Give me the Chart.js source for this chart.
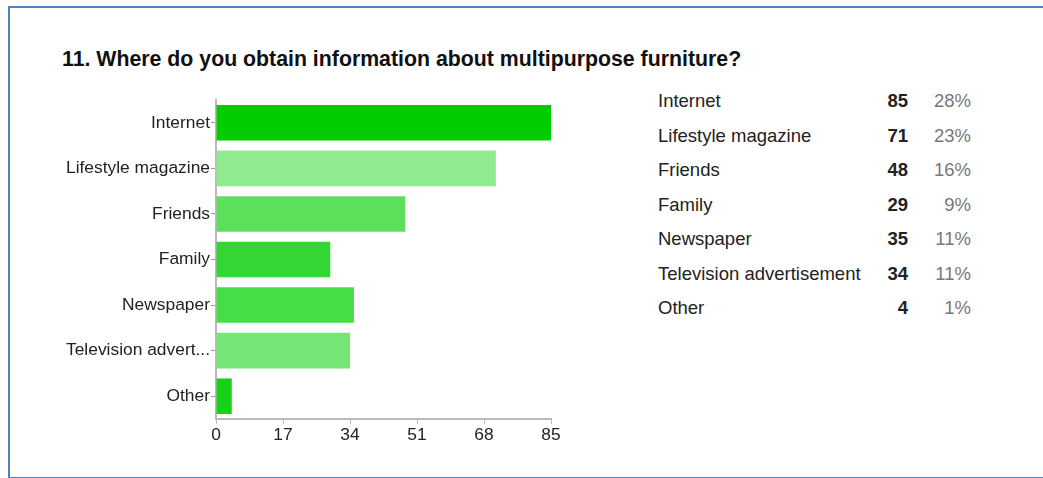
<!DOCTYPE html>
<html>
<head>
<meta charset="utf-8">
<script src="https://cdn.jsdelivr.net/npm/chart.js@4/dist/chart.umd.min.js"></script>
<style>
  html, body { margin: 0; padding: 0; background: #fff; }
  body { width: 1043px; height: 478px; position: relative; overflow: hidden; font-family: "Liberation Sans", Arial, sans-serif; }
  #frame { position: absolute; left: 8px; top: 6px; width: 1100px; height: 469px; border: 2px solid #4f81bd; border-right: none; }
  #title { position: absolute; left: 62px; top: 47px; font-size: 21.3px; font-weight: bold; color: #111; white-space: nowrap; }
  #chartBox { position: absolute; left: 0; top: 0; width: 600px; height: 478px; }
  #summary { position: absolute; left: 658px; top: 84px; border-collapse: collapse; table-layout: fixed; width: 313px; font-size: 18.5px; color: #222; }
  #summary td { padding: 0; height: 34.5px; white-space: nowrap; }
  #summary col.name { width: 210px; }
  #summary col.num { width: 40px; }
  #summary col.pct { width: 63px; }
  #summary td.num { text-align: right; font-weight: bold; }
  #summary td.pct { text-align: right; color: #777; }
</style>
</head>
<body>
<div id="frame"></div>
<div id="title"></div>
<div id="chartBox"><canvas id="chart"></canvas></div>
<table id="summary"><colgroup><col class="name"><col class="num"><col class="pct"></colgroup><tbody></tbody></table>
<script>
const questionTitle = "11. Where do you obtain information about multipurpose furniture?";
const categories = ["Internet", "Lifestyle magazine", "Friends", "Family", "Newspaper", "Television advertisement", "Other"];
const counts = [85, 71, 48, 29, 35, 34, 4];
const percentLabels = ["28%", "23%", "16%", "9%", "11%", "11%", "1%"];
const barColors = ["#00cc00", "#90ea90", "#5ce05c", "#33d633", "#47dd47", "#75e575", "#19d119"];
const xTickValues = [0, 17, 34, 51, 68, 85];

document.getElementById("title").textContent = questionTitle;

// Response summary table beside the chart
const tbody = document.querySelector("#summary tbody");
categories.forEach((name, i) => {
  const tr = document.createElement("tr");
  const a = document.createElement("td"); a.textContent = name;
  const b = document.createElement("td"); b.className = "num"; b.textContent = counts[i];
  const c = document.createElement("td"); c.className = "pct"; c.textContent = percentLabels[i];
  tr.append(a, b, c);
  tbody.appendChild(tr);
});

// Long category names are cut short on the axis
const shorten = s => s.length > 18 ? s.slice(0, 17) + "..." : s;
const labelFont = { family: "'Liberation Sans', Arial, sans-serif", size: 17.4 };

new Chart(document.getElementById("chart"), {
  type: "bar",
  data: {
    labels: categories,
    datasets: [{
      data: counts,
      backgroundColor: barColors,
      borderWidth: 0,
      barPercentage: 0.78,
      categoryPercentage: 1
    }]
  },
  options: {
    indexAxis: "y",
    responsive: true,
    maintainAspectRatio: false,
    animation: false,
    layout: { padding: { top: 100, right: 49, bottom: 0, left: 0 } },
    plugins: { legend: { display: false }, tooltip: { enabled: false } },
    scales: {
      x: {
        min: 0,
        max: 85,
        afterBuildTicks: scale => { scale.ticks = xTickValues.map(v => ({ value: v })); },
        afterFit: scale => { scale.height = 59; },
        grid: { drawOnChartArea: false, drawTicks: true, tickLength: 5, color: "#bbb" },
        border: { color: "#bbb", width: 2 },
        ticks: { color: "#222", font: labelFont, padding: 1, maxRotation: 0 }
      },
      y: {
        afterFit: scale => { scale.width = 216; },
        grid: { drawOnChartArea: false, drawTicks: true, tickLength: 5, color: "#999", offset: false },
        border: { color: "#bbb", width: 2 },
        ticks: { color: "#222", font: labelFont, padding: 1, callback: function (v) { return shorten(this.getLabelForValue(v)); } }
      }
    }
  }
});
</script>
</body>
</html>
